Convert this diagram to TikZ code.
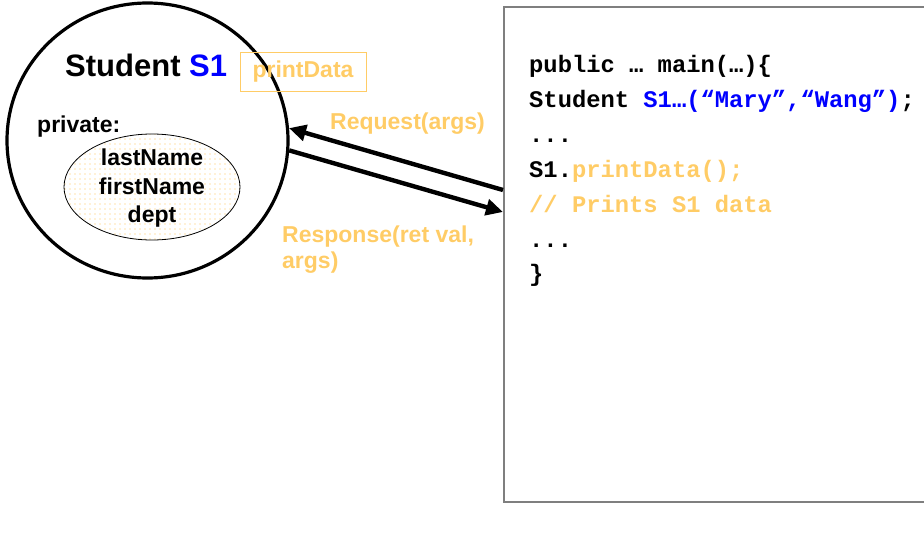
\documentclass[tikz,border=0pt]{standalone}
\usepackage{fontspec}
\setmainfont{Liberation Sans}
\newfontfamily\codefont{Liberation Mono}
\usetikzlibrary{shapes.geometric,arrows.meta,patterns.meta}
\definecolor{orng}{HTML}{FFCC66}
\definecolor{dotc}{HTML}{FFC451}
\definecolor{bluec}{HTML}{0000FF}
\definecolor{boxgray}{HTML}{7F7F7F}
\tikzset{
  lbl/.style={inner sep=0pt, anchor=base west, font=\bfseries\fontsize{23pt}{26pt}\selectfont},
  codeline/.style={inner sep=0pt, anchor=base west, font=\codefont\bfseries\fontsize{23.8pt}{28pt}\selectfont},
  arr/.style={line width=4.4pt, -{Triangle[length=17pt,width=16pt]}},
}
\begin{document}
\begin{tikzpicture}[x=1pt,y=-1pt]
\useasboundingbox (0,0) rectangle (924,554);
\clip (0,0) rectangle (924,554);
% object circle
\node[ellipse, draw, line width=3.2pt, minimum width=281pt, minimum height=275pt, inner sep=0pt] (obj) at (147.5,140.5) {};
\node[inner sep=0pt, anchor=base west, font=\bfseries\fontsize{31pt}{36pt}\selectfont] (title) at (65,76) {Student \textcolor{bluec}{S1}};
\node[draw=orng, line width=1pt, minimum width=126pt, minimum height=39pt, inner sep=0pt, text=orng, font=\bfseries\fontsize{23pt}{26pt}\selectfont] (pd) at (303,71.5) {printData};
\node[lbl] (priv) at (37,132) {private:};
\node[ellipse, draw, line width=0.8pt, pattern={Dots[distance=5pt,radius=0.7pt]}, pattern color=dotc, minimum width=176pt, minimum height=106pt, inner sep=0pt] (attr) at (152,187) {};
\node[inner sep=0pt, align=center, font=\bfseries\fontsize{23pt}{28.5pt}\selectfont] (attrtext) at (152,188.5) {lastName\\firstName\\dept};
% code box
\node[draw=boxgray, line width=1.5pt, anchor=north west, minimum width=440pt, minimum height=495pt, inner sep=0pt] (code) at (503,6) {};
\node[codeline] (c1) at (529,72) {public … main(…)\{};
\node[codeline] (c2) at (529,107) {Student \textcolor{bluec}{S1…(“Mary”,“Wang”)};};
\node[codeline] (c3) at (529,142) {...};
\node[codeline] (c4) at (529,177) {S1.\textcolor{orng}{printData();}};
\node[codeline, text=orng] (c5) at (529,212) {// Prints S1 data};
\node[codeline] (c6) at (529,247) {...};
\node[codeline] (c7) at (529,281) {\}};
% arrows
\coordinate (rqS) at (503,190);
\coordinate (rsE) at (503,212);
\draw[arr] (rqS) -- (obj.5);
\draw[arr] (obj.-4) -- (rsE);
\node[lbl, text=orng] (req) at (330,129) {Request(args)};
\node[lbl, text=orng, align=left] (resp) at (282,268) {Response(ret val,\\args)};
\end{tikzpicture}
\end{document}
